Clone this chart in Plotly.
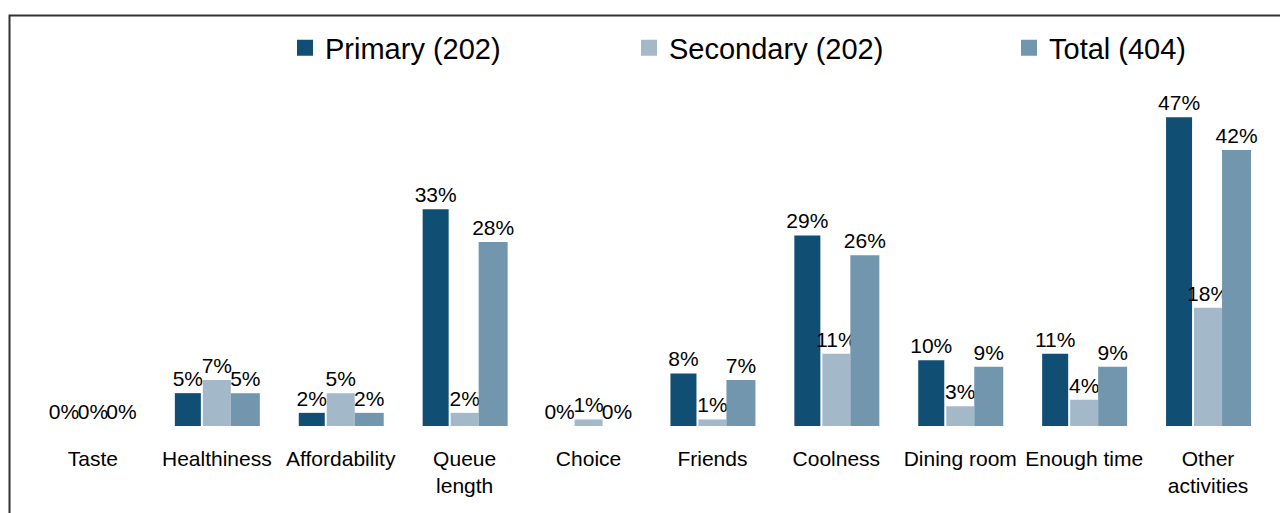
import plotly.graph_objects as go

categories = ["Taste", "Healthiness", "Affordability", "Queue<br>length", "Choice",
              "Friends", "Coolness", "Dining room", "Enough time", "Other<br>activities"]
primary = [0, 5, 2, 33, 0, 8, 29, 10, 11, 47]
secondary = [0, 7, 5, 2, 1, 1, 11, 3, 4, 18]
total = [0, 5, 2, 28, 0, 7, 26, 9, 9, 42]
series_names = ["Primary (202)", "Secondary (202)", "Total (404)"]
colors = ["#114E74", "#A3B8C8", "#7196AE"]

# page body has an 8px margin: figure origin sits at screen (8, 8)
PAGE_OFF = 8
W, H = 1280, 505
SCR_L, SCR_R, SCR_T, SCR_BASE = 31, 1270, 90, 426
L = SCR_L - PAGE_OFF
T = SCR_T - PAGE_OFF
R = W - (SCR_R - PAGE_OFF)
B = H - (SCR_BASE - PAGE_OFF)
plot_w = W - L - R
plot_h = H - T - B

def px_x(p):
    return (p - PAGE_OFF - L) / plot_w

def px_y(p):
    return (H - B - (p - PAGE_OFF)) / plot_h

fig = go.Figure()
offsets = [-0.339, -0.113, 0.113]
widths = [0.21, 0.226, 0.234]
legend_ids = ["legend", "legend2", "legend3"]
legend_left = [285, 629, 1009]
for name, vals, col, off, wd, lg in zip(series_names, [primary, secondary, total], colors,
                                        offsets, widths, legend_ids):
    fig.add_trace(go.Bar(
        x=categories, y=vals, name=name,
        marker=dict(color=col, line=dict(width=0)),
        offset=off, width=wd,
        text=[f"{v}%" for v in vals], textposition="outside",
        constraintext="none",
        textfont=dict(size=21, color="#000000", family="Liberation Sans, Arial"),
        cliponaxis=False, showlegend=False,
    ))
    # legend-only entry with a larger square swatch
    fig.add_trace(go.Scatter(
        x=[None], y=[None], name=name, mode="markers",
        marker=dict(symbol="square", size=16, color=col, line=dict(width=0)),
        legend=lg, showlegend=True,
    ))

fig.add_shape(type="rect", xref="paper", yref="paper",
              x0=px_x(9.5), x1=px_x(1320), y0=px_y(15.5), y1=px_y(540),
              line=dict(color="#333333", width=2), fillcolor="rgba(0,0,0,0)")

legend_common = dict(orientation="h", xanchor="left", yanchor="middle", y=px_y(48),
                     font=dict(size=29, color="#000000"), bgcolor="rgba(0,0,0,0)",
                     borderwidth=0, itemsizing="trace")
layout_legends = {}
for lg, lx in zip(legend_ids, legend_left):
    layout_legends[lg] = dict(legend_common, x=px_x(lx))

fig.update_layout(
    width=W, height=H,
    margin=dict(l=L, r=R, t=T, b=B, autoexpand=False),
    paper_bgcolor="white", plot_bgcolor="white",
    font=dict(family="Liberation Sans, Arial", color="#000000"),
    barmode="group",
    showlegend=True,
    xaxis=dict(showline=False, showgrid=False, ticks="", tickfont=dict(size=21),
               tickangle=0, ticklabelstandoff=18, zeroline=False, automargin=False),
    yaxis=dict(range=[0, plot_h / 6.57], visible=False, showgrid=False, zeroline=False),
    **layout_legends,
)

fig.write_html("out.html")
